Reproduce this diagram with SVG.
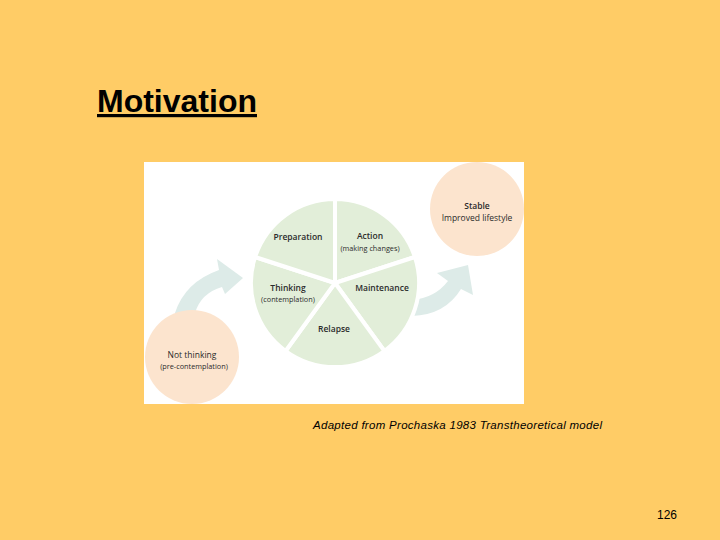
<svg xmlns="http://www.w3.org/2000/svg" width="720" height="540" viewBox="0 0 720 540">
<style>
.t{font-family:"Open Sans","Noto Sans",sans-serif;fill:#2b2b2b;text-anchor:middle}
.b{font-size:8.5px;font-weight:600}
.r{font-size:8.5px;font-weight:400}
.s{font-size:7.3px}
.slice{fill:#E2EED9;stroke:#ffffff;stroke-width:4;stroke-linejoin:round}
.peach{fill:#FCE4CE}
.arr{fill:#DDEBE8}
</style>
<rect x="0" y="0" width="720" height="540" fill="#FFCC66"/>
<text x="97" y="112" font-family="'Liberation Sans',Arial,sans-serif" font-size="32" font-weight="bold" fill="#000" text-decoration="underline">Motivation</text>
<rect x="144" y="162" width="380" height="242" fill="#ffffff"/>
<g id="connectors">
<path class="arr" d="M175 313 Q185 282 219 270 L217 259 L243 278 L225 294 L222 287 Q201 293 195 313 Z"/>
<path class="arr" d="M412 300 Q435 298 448 281 L437 273 L468 265 L473 295 L461 289 Q445 315 412 316 Z"/>
</g>
<g id="pie">
<path class="slice" d="M335 283 L335 199 A84 84 0 0 1 414.9 257.0 Z"/>
<path class="slice" d="M335 283 L414.9 257.0 A84 84 0 0 1 384.4 351.0 Z"/>
<path class="slice" d="M335 283 L384.4 351.0 A84 84 0 0 1 285.6 351.0 Z"/>
<path class="slice" d="M335 283 L285.6 351.0 A84 84 0 0 1 255.1 257.0 Z"/>
<path class="slice" d="M335 283 L255.1 257.0 A84 84 0 0 1 335 199 Z"/>
</g>
<g id="preparation"><text class="t b" x="298" y="240">Preparation</text></g>
<g id="action"><text class="t b" x="370" y="239">Action</text><text class="t s" x="370" y="251">(making changes)</text></g>
<g id="maintenance"><text class="t b" x="382" y="291">Maintenance</text></g>
<g id="thinking"><text class="t b" x="288" y="291">Thinking</text><text class="t s" x="288" y="302">(contemplation)</text></g>
<g id="relapse"><text class="t b" x="334" y="332">Relapse</text></g>
<g id="not-thinking">
<circle class="peach" cx="192" cy="357" r="47"/>
<text class="t r" x="192" y="358">Not thinking</text>
<text class="t s" x="194" y="369">(pre-contemplation)</text>
</g>
<g id="stable">
<circle class="peach" cx="477" cy="209" r="47"/>
<text class="t b" x="477" y="209">Stable</text>
<text class="t r" x="477" y="221">Improved lifestyle</text>
</g>
<text x="313" y="429" font-family="'Liberation Sans',Arial,sans-serif" font-size="11.5" font-style="italic" fill="#000" textLength="289">Adapted from Prochaska 1983 Transtheoretical model</text>
<text x="667" y="519" font-family="'Liberation Sans',Arial,sans-serif" font-size="12" fill="#000" text-anchor="middle">126</text>
</svg>
